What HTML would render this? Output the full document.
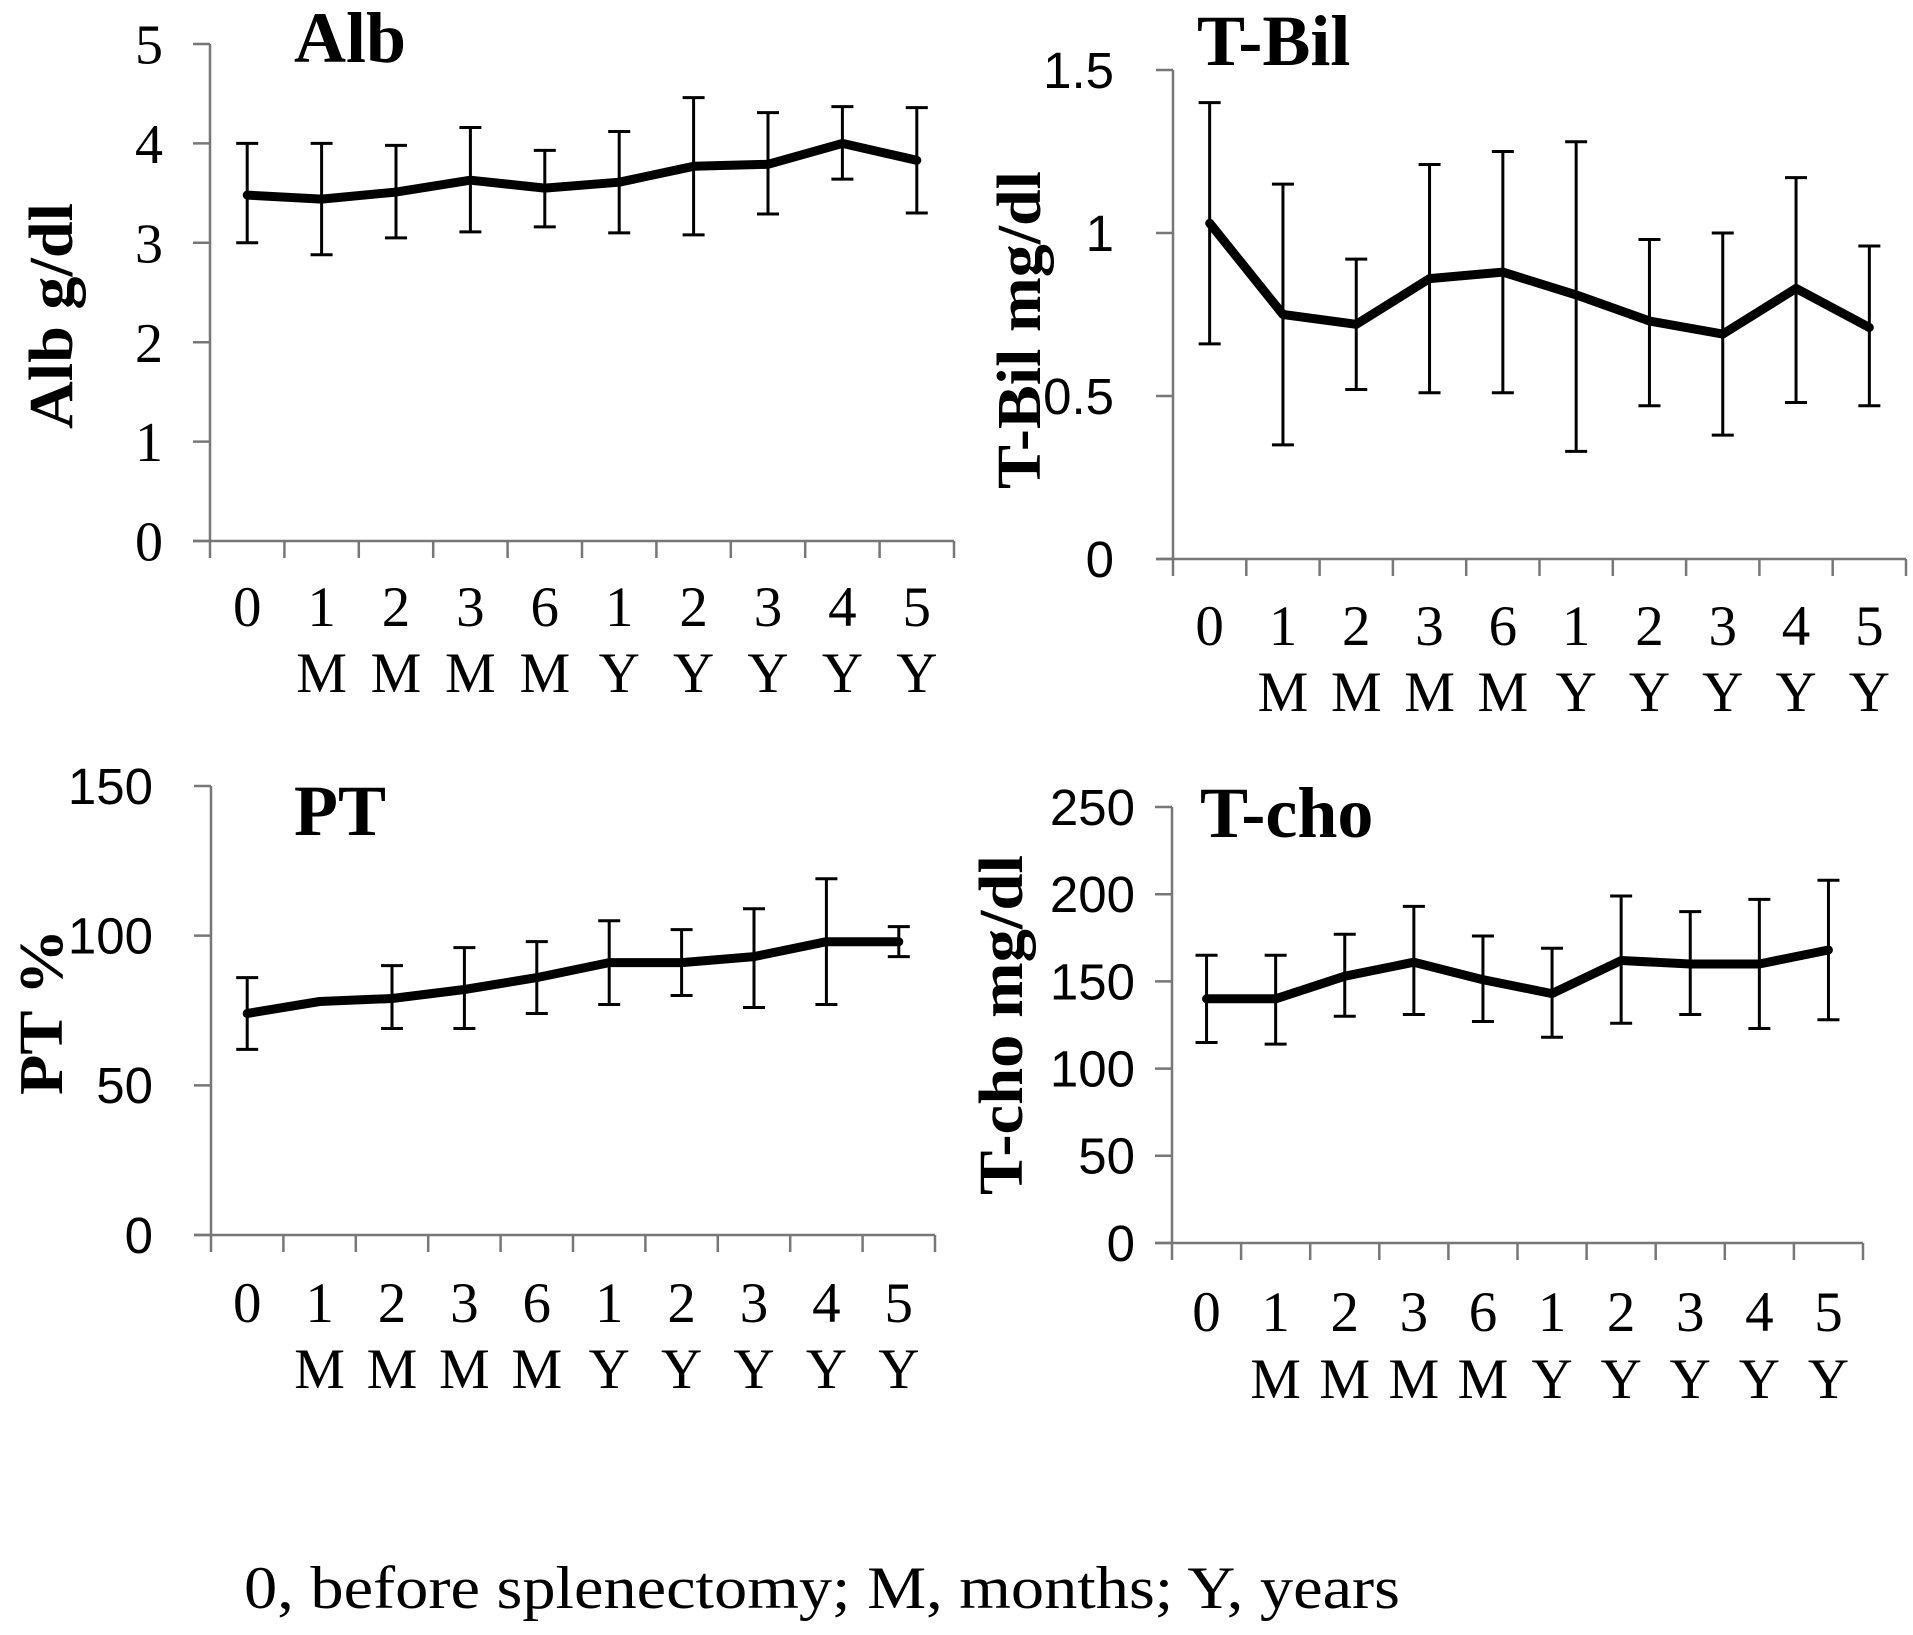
<!DOCTYPE html>
<html><head><meta charset="utf-8"><style>
html,body{margin:0;padding:0;background:#fff;}
svg{display:block;}
</style></head><body>
<svg id="fig" width="1913" height="1635" viewBox="0 0 1913 1635" xmlns="http://www.w3.org/2000/svg">
<text x="244" y="1608" font-family="Liberation Serif, serif" font-size="60" textLength="1156" lengthAdjust="spacingAndGlyphs">0, before splenectomy; M, months; Y, years</text>
</svg>
<script>
const cats1 = ["0","1","2","3","6","1","2","3","4","5"];
const cats2 = ["","M","M","M","M","Y","Y","Y","Y","Y"];
const albMean = [3.48,3.44,3.51,3.63,3.55,3.61,3.77,3.79,4.0,3.83];
const albHi = [4.0,4.0,3.98,4.16,3.93,4.12,4.46,4.31,4.37,4.36];
const albLo = [3.0,2.88,3.05,3.11,3.16,3.10,3.08,3.29,3.64,3.30];
const albTicks = ["0","1","2","3","4","5"];
const bilMean = [1.03,0.75,0.72,0.86,0.88,0.81,0.73,0.69,0.83,0.71];
const bilHi = [1.40,1.15,0.92,1.21,1.25,1.28,0.98,1.0,1.17,0.96];
const bilLo = [0.66,0.35,0.52,0.51,0.51,0.33,0.47,0.38,0.48,0.47];
const bilTicks = ["0","0.5","1","1.5"];
const ptMean = [74,78,79,82,86,91,91,93,98,98];
const ptHi = [86,78,90,96,98,105,102,109,119,103];
const ptLo = [62,78,69,69,74,77,80,76,77,93];
const ptTicks = ["0","50","100","150"];
const choMean = [140,140,153,161,151,143,162,160,160,168];
const choHi = [165,165,177,193,176,169,199,190,197,208];
const choLo = [115,114,130,131,127,118,126,131,123,128];
const choTicks = ["0","50","100","150","200","250"];

const NS = "http://www.w3.org/2000/svg";
const svg = document.getElementById("fig");
function mk(tag, attrs, parent){
  const e = document.createElementNS(NS, tag);
  for (const k in attrs) e.setAttribute(k, attrs[k]);
  (parent||svg).appendChild(e);
  return e;
}
const panels = [
 {key:"alb", mean:albMean, hi:albHi, lo:albLo, ticks:albTicks, max:5,
  ax:210, y0:541, yt:44, xe:954, lblR:163, tickFont:"Liberation Serif, serif", tickSize:56,
  b1:626, b2:692, title:"Alb", tx:294, ty:62, yTitle:"Alb g/dl", ytx:52, yty:316, ytl:226},
 {key:"tbil", mean:bilMean, hi:bilHi, lo:bilLo, ticks:bilTicks, max:1.5,
  ax:1173, y0:559, yt:70, xe:1906, lblR:1114, tickFont:"Liberation Sans, sans-serif", tickSize:51,
  b1:645, b2:711, title:"T-Bil", tx:1197, ty:65, yTitle:"T-Bil mg/dl", ytx:1020, yty:330, ytl:318},
 {key:"pt", mean:ptMean, hi:ptHi, lo:ptLo, ticks:ptTicks, max:150,
  ax:211, y0:1235, yt:786, xe:935, lblR:153, tickFont:"Liberation Sans, sans-serif", tickSize:51,
  b1:1322, b2:1388, title:"PT", tx:294, ty:835, yTitle:"PT %", ytx:42, yty:1012, ytl:166},
 {key:"tcho", mean:choMean, hi:choHi, lo:choLo, ticks:choTicks, max:250,
  ax:1172, y0:1243, yt:807, xe:1863, lblR:1135, tickFont:"Liberation Sans, sans-serif", tickSize:51,
  b1:1331, b2:1398, title:"T-cho", tx:1200, ty:837, yTitle:"T-cho mg/dl", ytx:1002, yty:1025, ytl:340}
];
panels.forEach(p=>{
  const g = mk("g", {});
  
  
  const n = p.mean.length;
  const step = (p.xe - p.ax)/n;
  const X = i => p.ax + step*(i+0.5);
  const Y = v => p.y0 - (v/p.max)*(p.y0 - p.yt);
  const ya = mk("line", {x1:p.ax, y1:p.yt, x2:p.ax, y2:p.y0, stroke:"#777", "stroke-width":2.5}, g);
  
  
  p.ticks.forEach(t=>{
    const y = Y(parseFloat(t));
    mk("line", {x1:p.ax-17, y1:y, x2:p.ax, y2:y, stroke:"#777", "stroke-width":2.5}, g);
    const tl = mk("text", {x:p.lblR, y:y+p.tickSize*0.35, "text-anchor":"end", "font-family":p.tickFont, "font-size":p.tickSize}, g);
    
    
    tl.textContent = t;
  });
  const xa = mk("line", {x1:p.ax-17, y1:p.y0, x2:p.xe, y2:p.y0, stroke:"#777", "stroke-width":2.5}, g);
  
  
  for (let i=0;i<=n;i++){
    const x = p.ax + step*i;
    mk("line", {x1:x, y1:p.y0, x2:x, y2:p.y0+17, stroke:"#777", "stroke-width":2.5}, g);
  }
  for (let i=0;i<n;i++){
    const t1 = mk("text", {x:X(i), y:p.b1, "text-anchor":"middle", "font-family":"Liberation Serif, serif", "font-size":57}, g);
    
    
    t1.textContent = cats1[i];
    if (cats2[i]){
      const t2 = mk("text", {x:X(i), y:p.b2, "text-anchor":"middle", "font-family":"Liberation Serif, serif", "font-size":57}, g);
      
      
      t2.textContent = cats2[i];
    }
  }
  for (let i=0;i<n;i++){
    if (p.hi[i] === p.lo[i]) continue;
    const eb = mk("g", {stroke:"#000", "stroke-width":3}, g);
    
    
    const x = X(i), yh = Y(p.hi[i]), yl = Y(p.lo[i]);
    mk("line", {x1:x, y1:yh, x2:x, y2:yl}, eb);
    mk("line", {x1:x-11, y1:yh, x2:x+11, y2:yh}, eb);
    mk("line", {x1:x-11, y1:yl, x2:x+11, y2:yl}, eb);
  }
  const pts = p.mean.map((v,i)=>X(i).toFixed(1)+","+Y(v).toFixed(1)).join(" ");
  const pl = mk("polyline", {points:pts, fill:"none", stroke:"#000", "stroke-width":9, "stroke-linejoin":"round", "stroke-linecap":"round"}, g);
  
  
  const tt = mk("text", {x:p.tx, y:p.ty, "font-family":"Liberation Serif, serif", "font-weight":"bold", "font-size":72}, g);
  
  
  tt.textContent = p.title;
  const yt = mk("text", {x:0, y:0, transform:`translate(${p.ytx},${p.yty}) rotate(-90)`, "text-anchor":"middle", "dominant-baseline":"central", "font-family":"Liberation Serif, serif", "font-weight":"bold", "font-size":62, textLength:p.ytl, lengthAdjust:"spacingAndGlyphs"}, g);
  
  
  yt.textContent = p.yTitle;
});
</script>
</body></html>
